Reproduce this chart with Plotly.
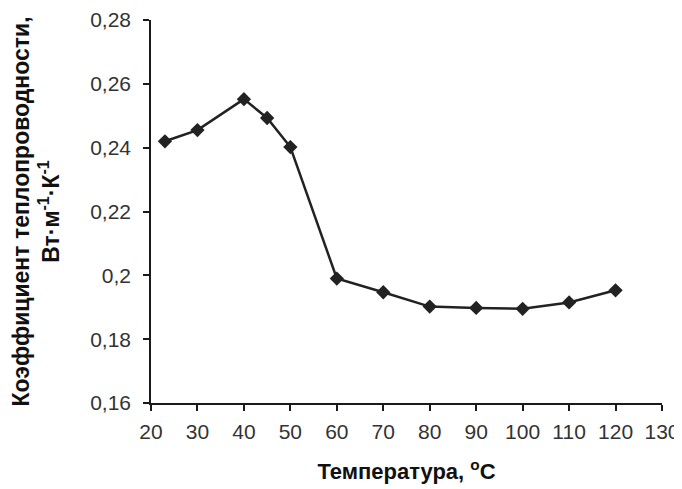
import plotly.graph_objects as go

temperature = [23, 30, 40, 45, 50, 60, 70, 80, 90, 100, 110, 120]
conductivity = [0.242, 0.2455, 0.2552, 0.2493, 0.2402, 0.1990, 0.1947, 0.1902, 0.1898, 0.1895, 0.1915, 0.1953]

x_ticks = [20, 30, 40, 50, 60, 70, 80, 90, 100, 110, 120, 130]
y_ticks = [0.16, 0.18, 0.20, 0.22, 0.24, 0.26, 0.28]
y_tick_labels = ["0,16", "0,18", "0,2", "0,22", "0,24", "0,26", "0,28"]

x_title = "<b>Температура, <sup>o</sup>С</b>"
y_title = "<b>Коэффициент теплопроводности,<br>Вт·м<sup>-1</sup>·К<sup>-1</sup></b>"

fig = go.Figure()
fig.add_trace(go.Scatter(
    x=temperature, y=conductivity, mode="lines+markers",
    line=dict(color="#222222", width=2.5),
    marker=dict(symbol="diamond", size=11, color="#222222"),
    showlegend=False,
))

font_family = "Liberation Sans, Arial, sans-serif"
fig.update_layout(
    width=682, height=489,
    margin=dict(l=143, r=28, t=12, b=94, autoexpand=False),
    paper_bgcolor="white", plot_bgcolor="white",
    font=dict(family=font_family, color="#333333", size=21),
    xaxis=dict(
        range=[20, 130], tickvals=x_ticks, ticktext=[str(v) for v in x_ticks],
        showline=True, linecolor="#1a1a1a", linewidth=1.5,
        ticks="outside", ticklen=6, tickcolor="#1a1a1a", tickwidth=1.5,
        ticklabelstandoff=3, automargin=False,
        showgrid=False, zeroline=False,
        tickfont=dict(size=21),
        title=dict(text=x_title, font=dict(size=22, color="#111111"), standoff=22),
    ),
    yaxis=dict(
        range=[0.16, 0.28], tickvals=y_ticks, ticktext=y_tick_labels,
        showline=True, linecolor="#1a1a1a", linewidth=1.5,
        ticks="outside", ticklen=6, tickcolor="#1a1a1a", tickwidth=1.5,
        ticklabelstandoff=8, automargin=False,
        showgrid=False, zeroline=False,
        tickfont=dict(size=21),
        title=dict(text=y_title, font=dict(size=23, color="#111111"), standoff=28),
    ),
)

fig.write_html("out.html")
